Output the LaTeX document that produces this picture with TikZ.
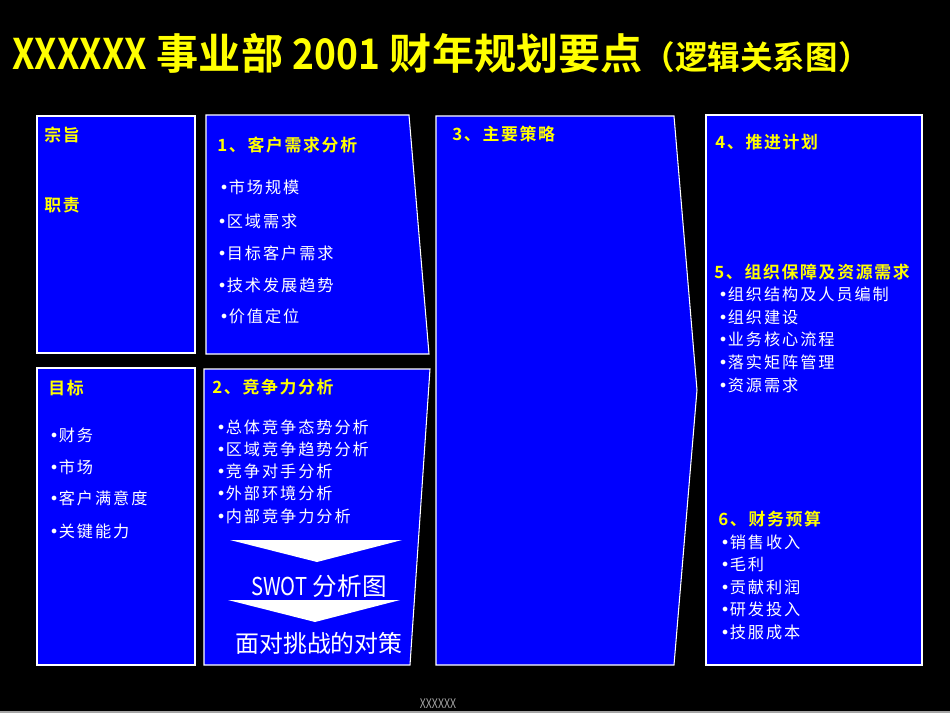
\documentclass[tikz,border=0pt]{standalone}
\usepackage{fontspec}
\setmainfont{Noto Sans CJK SC}[BoldFont={Noto Sans CJK SC Bold}]
\newfontfamily\hdfont[LetterSpace=10,BoldFont={Noto Sans CJK SC Bold}]{Noto Sans CJK SC}
\newfontfamily\itfont[LetterSpace=12]{Noto Sans CJK SC}
\newfontfamily\dotfont{DejaVu Sans}
\newcommand\bul{{\dotfont •}}
\usepackage{tikz}

\definecolor{slideblue}{RGB}{0,0,255}
\definecolor{titleyellow}{RGB}{255,255,0}
\definecolor{footgray}{RGB}{165,165,165}

\tikzset{
  panel/.style={draw=white,fill=slideblue,line width=0.6pt},
  headtext/.style={anchor=west,inner sep=0pt,text=titleyellow,
    font=\hdfont\bfseries\fontsize{#1}{#1}\selectfont},
  headtext/.default=9.6pt,
  itemtext/.style={anchor=west,inner sep=0pt,text=white,
    font=\itfont\fontsize{#1}{#1}\selectfont},
  itemtext/.default=9.2pt,
  chevron/.style={fill=white,draw=none}
}

\begin{document}
\begin{tikzpicture}[x=0.02cm,y=-0.02cm]
  % background, page frame
  \fill[black] (0,0) rectangle (950,713);
  \useasboundingbox (0,0) rectangle (950,713);
  \draw[footgray,line width=0.8pt] (0,712) -- (950,712);

  % title
  \node[anchor=west,inner sep=0pt,text=titleyellow,font=\bfseries\fontsize{24pt}{24pt}\selectfont]
    (title) at (12,53) {\scalebox{0.85}[1]{XXXXXX} 事业部 \scalebox{0.88}[1]{2001} 财年规划要点{\fontsize{18.5pt}{18.5pt}\selectfont（逻辑关系图）}};

  % panels
  \draw[panel] (37,116) rectangle (195,353);
  \draw[panel] (37,368) rectangle (195,665);
  \draw[panel] (206,115) -- (409,115) -- (429,354) -- (206,354) -- cycle;
  \draw[panel] (204,369) -- (430,369) -- (410,665) -- (204,665) -- cycle;
  \draw[panel] (436,116) -- (674,116) -- (697,390) -- (674,665) -- (436,665) -- cycle;
  \draw[panel] (706,115) rectangle (922,665);

  % purpose and goals
  \node[headtext] (purpose) at (44,135) {宗旨};
  \node[headtext] (duty) at (44,205) {职责};
  \node[headtext] (goal) at (48,388) {目标};
  \node[itemtext] (g1) at (49,435) {\bul 财务};
  \node[itemtext] (g2) at (49,467) {\bul 市场};
  \node[itemtext] (g3) at (49,498) {\bul 客户满意度};
  \node[itemtext] (g4) at (49,531) {\bul 关键能力};

  % 1 customer demand
  \node[headtext] (cust) at (217,145) {1、客户需求分析};
  \node[itemtext] (c1) at (219,187) {\bul 市场规模};
  \node[itemtext] (c2) at (217,221) {\bul 区域需求};
  \node[itemtext] (c3) at (217,253) {\bul 目标客户需求};
  \node[itemtext] (c4) at (217,285) {\bul 技术发展趋势};
  \node[itemtext] (c5) at (219,316) {\bul 价值定位};

  % 2 competition
  \node[headtext] (comp) at (212,387) {2、竞争力分析};
  \node[itemtext] (k1) at (216,427) {\bul 总体竞争态势分析};
  \node[itemtext] (k2) at (216,449) {\bul 区域竞争趋势分析};
  \node[itemtext] (k3) at (216,471) {\bul 竞争对手分析};
  \node[itemtext] (k4) at (216,493) {\bul 外部环境分析};
  \node[itemtext] (k5) at (216,516) {\bul 内部竞争力分析};

  \fill[chevron] (230,540) -- (402,540) -- (317,562) -- cycle;
  \node[inner sep=0pt,text=white,font=\fontsize{14pt}{14pt}\selectfont]
    (swot) at (319,586) {\scalebox{0.82}[1]{SWOT} 分析图};
  \fill[chevron] (228,600) -- (400,600) -- (315,622) -- cycle;
  \node[inner sep=0pt,text=white,font=\fontsize{13.6pt}{14pt}\selectfont]
    (answer) at (319,643) {面对挑战的对策};

  % 3 strategy
  \node[headtext] (strat) at (452,134) {3、主要策略};

  % 4 5 6 plan, resources, budget
  \node[headtext] (plan) at (715,142) {4、推进计划};
  \node[headtext] (res) at (714,272) {5、组织保障及资源需求};
  \node[itemtext] (r1) at (718,294) {\bul 组织结构及人员编制};
  \node[itemtext] (r2) at (718,317) {\bul 组织建设};
  \node[itemtext] (r3) at (718,339) {\bul 业务核心流程};
  \node[itemtext] (r4) at (718,362) {\bul 落实矩阵管理};
  \node[itemtext] (r5) at (718,385) {\bul 资源需求};
  \node[headtext] (budget) at (718,519) {6、财务预算};
  \node[itemtext] (b1) at (720,542) {\bul 销售收入};
  \node[itemtext] (b2) at (720,564) {\bul 毛利};
  \node[itemtext] (b3) at (720,587) {\bul 贡献利润};
  \node[itemtext] (b4) at (720,609) {\bul 研发投入};
  \node[itemtext] (b5) at (720,632) {\bul 技服成本};

  % footer
  \node[inner sep=0pt,text=footgray,font=\fontsize{7.5pt}{8pt}\selectfont]
    (foot) at (438,704) {\scalebox{0.8}[1]{XXXXXX}};
\end{tikzpicture}
\end{document}
